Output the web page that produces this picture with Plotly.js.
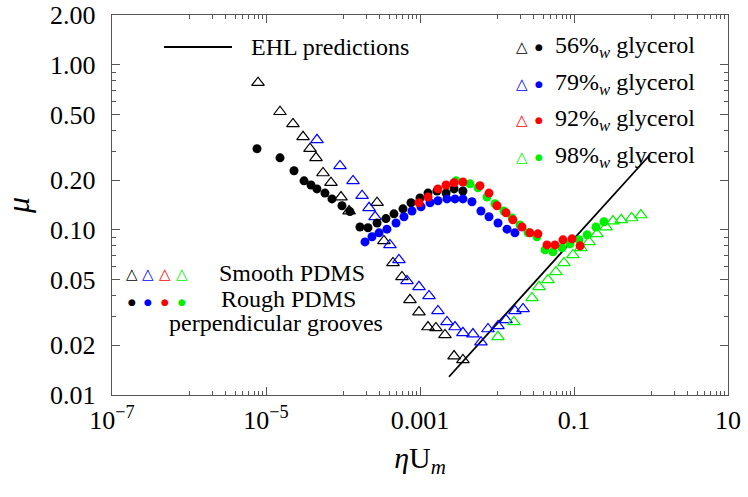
<!DOCTYPE html>
<html><head><meta charset="utf-8">
<script src="https://cdn.plot.ly/plotly-3.0.1.min.js"></script>
<style>body{margin:0;background:#fff;} #chart{width:748px;height:497px;}</style>
</head><body><div id="chart"></div>
<script>
// ---- data ----
const smooth56X = [7.87e-6,1.52e-5,2.24e-5,3.03e-5,3.73e-5,4.46e-5,5.50e-5,6.98e-5,9.42e-5,1.20e-4,2.77e-4,3.40e-4,4.46e-4,5.83e-4,7.41e-4,9.70e-4,1.27e-3,1.61e-3,2.11e-3,2.77e-3,3.61e-3];
const smooth56Y = [0.778,0.519,0.438,0.366,0.310,0.273,0.221,0.193,0.158,0.130,0.146,0.0857,0.0631,0.0519,0.0377,0.0318,0.0258,0.0255,0.0231,0.0172,0.0163];
const smooth79X = [4.59e-5,9.14e-5,1.35e-4,1.77e-4,2.18e-4,2.61e-4,4.07e-4,5.33e-4,6.78e-4,9.70e-4,1.31e-3,1.71e-3,2.24e-3,2.85e-3,3.61e-3,4.87e-3,6.19e-3,7.64e-3,1.03e-2,1.31e-2,1.71e-2,2.18e-2];
const smooth79Y = [0.351,0.244,0.198,0.161,0.136,0.120,0.0811,0.0658,0.0491,0.0452,0.0398,0.0323,0.0277,0.0258,0.0238,0.0234,0.0209,0.0251,0.0262,0.0285,0.0323,0.0332];
const smooth98X = [1.03e-2,1.66e-2,2.85e-2,3.51e-2,4.59e-2,5.83e-2,7.41e-2,9.70e-2,0.123,0.157,0.199,0.261,0.321,0.41,0.56,0.74];
const smooth98Y = [0.0225,0.0277,0.0387,0.0452,0.0498,0.0556,0.0631,0.0705,0.0778,0.0845,0.0946,0.104,0.113,0.115,0.118,0.123];
const rough56X = [7.64e-6,1.52e-5,2.31e-5,3.12e-5,3.84e-5,4.59e-5,5.83e-5,7.19e-5,9.70e-5,1.23e-4,1.66e-4,2.11e-4,2.77e-4,3.61e-4,4.59e-4,6.01e-4,7.64e-4,1.00e-3,1.27e-3,1.66e-3,2.18e-3,2.77e-3,3.61e-3];
const rough56Y = [0.310,0.273,0.228,0.198,0.187,0.177,0.167,0.154,0.140,0.129,0.104,0.103,0.110,0.117,0.125,0.134,0.146,0.156,0.167,0.172,0.167,0.177,0.172];
const rough79X = [1.93e-4,2.38e-4,2.94e-4,3.72e-4,4.88e-4,6.19e-4,7.87e-4,1.03e-3,1.35e-3,1.71e-3,2.24e-3,2.85e-3,3.61e-3,4.73e-3,6.19e-3,7.87e-3,1.03e-2,1.35e-2,1.71e-2];
const rough79Y = [0.0845,0.0908,0.0959,0.101,0.110,0.120,0.130,0.138,0.146,0.150,0.154,0.154,0.154,0.148,0.130,0.120,0.110,0.101,0.0959];
const rough92X = [9.70e-4,1.27e-3,1.71e-3,2.18e-3,2.77e-3,3.61e-3,6.01e-3,7.87e-3,1.00e-2,1.31e-2,1.61e-2,2.11e-2,2.68e-2,3.40e-2,4.46e-2,5.66e-2,7.19e-2,9.42e-2,0.120];
const rough92Y = [0.146,0.158,0.177,0.187,0.193,0.195,0.185,0.167,0.140,0.127,0.115,0.104,0.0959,0.0946,0.0811,0.0811,0.0870,0.0882,0.080];
const rough98X = [2.94e-3,4.46e-3,5.66e-3,7.41e-3,9.42e-3,1.23e-2,1.57e-2,1.99e-2,2.53e-2,3.30e-2,4.20e-2,5.33e-2,6.98e-2,8.87e-2,0.116,0.148,0.193,0.245];
const rough98Y = [0.198,0.190,0.180,0.158,0.144,0.130,0.118,0.107,0.0959,0.0908,0.0757,0.0736,0.0778,0.0822,0.0870,0.0933,0.104,0.112];
const ehlX = [2.38e-3, 0.97];
const ehlY = [0.0129, 0.285];

const yTickVals = [0.01,0.02,0.05,0.1,0.2,0.5,1,2];
const yTickText = ['0.01','0.02','0.05','0.10','0.20','0.50','1.00','2.00'];
const xTickVals = [1e-7,1e-5,1e-3,1e-1,10];
const xTickText = ['10<sup>\u22127</sup>','10<sup>\u22125</sup>','0.001','0.1','10'];
const xMinor = [1e-6,2e-6,3e-6,4e-6,5e-6,6e-6,7e-6,8e-6,9e-6,1e-4,2e-4,3e-4,4e-4,5e-4,6e-4,7e-4,8e-4,9e-4,1e-2,2e-2,3e-2,4e-2,5e-2,6e-2,7e-2,8e-2,9e-2,1,2,3,4,5,6,7,8,9];
const yMinor = [0.03,0.04,0.06,0.07,0.08,0.09,0.3,0.4,0.6,0.7,0.8,0.9];

const cBlack='#000000', cBlue='#0000ff', cRed='#ff0000', cGreen='#00f000';
const FONT = '"Liberation Serif", "Times New Roman", Times, serif';

function tri(x,y,c){return {x:x,y:y,type:'scatter',mode:'markers',marker:{symbol:'triangle-up-open',size:11,color:c,line:{color:c,width:1.2}},hoverinfo:'skip'};}
function dot(x,y,c){return {x:x,y:y,type:'scatter',mode:'markers',marker:{symbol:'circle',size:9,color:c,line:{width:0}},hoverinfo:'skip'};}

const traces = [
  {x:ehlX,y:ehlY,type:'scatter',mode:'lines',line:{color:'#000',width:1.8},hoverinfo:'skip'},
  tri(smooth56X,smooth56Y,cBlack),
  tri(smooth79X,smooth79Y,cBlue),
  tri(smooth98X,smooth98Y,cGreen),
  dot(rough56X,rough56Y,cBlack),
  dot(rough79X,rough79Y,cBlue),
  dot(rough98X,rough98Y,cGreen),
  dot(rough92X,rough92Y,cRed)
];

// plot area in pixels: x 112..728, y 15..395
const L=112,R=728,T=15,B=395;
function px(x){return (x-L)/(R-L);}
function py(y){return (B-y)/(B-T);}
const anns=[];
function txt(x,y,t,size,xa,col){anns.push({xref:'paper',yref:'paper',x:px(x),y:py(y),text:t,showarrow:false,xanchor:xa||'left',yanchor:'middle',font:{family:FONT,size:size,color:col||'#000'}});}
function sym(x,y,t,col,size,fam){anns.push({xref:'paper',yref:'paper',x:px(x),y:py(y),text:t,showarrow:false,xanchor:'center',yanchor:'middle',font:{family:fam||'DejaVu Sans',size:size,color:col}});}

// legend top-left
txt(249,47,'EHL predictions',24);
// legend right
const rowsY=[47,84,120,157];
const rowCols=[cBlack,cBlue,cRed,cGreen];
const rowTxt=['56%<sub><i>w</i></sub> glycerol','79%<sub><i>w</i></sub> glycerol','92%<sub><i>w</i></sub> glycerol','98%<sub><i>w</i></sub> glycerol'];
for(let i=0;i<4;i++){
  sym(522,rowsY[i],'\u25B3',rowCols[i],15);
  sym(539,rowsY[i],'\u25CF',rowCols[i],9);
  txt(553,rowsY[i],rowTxt[i],24);
}
// legend left
const lx=[132,148,165,182];
for(let i=0;i<4;i++){
  sym(lx[i],274,'\u25B3',rowCols[i],15);
  sym(lx[i],302,'\u25CF',rowCols[i],9);
}
txt(217,273,'Smooth PDMS',24);
txt(219,299,'Rough PDMS',24);
txt(167,323,'perpendicular grooves',24);

const layout = {
  width:748,height:497,
  margin:{l:L,r:748-R,t:T,b:497-B},
  paper_bgcolor:'#fff',plot_bgcolor:'#fff',
  showlegend:false,
  font:{family:FONT,color:'#000'},
  xaxis:{type:'log',range:[-7,1],tickmode:'array',tickvals:xTickVals,ticktext:xTickText,
    ticks:'inside',ticklen:8,tickwidth:1,tickcolor:'#555',showline:true,linecolor:'#555',linewidth:1.2,mirror:'allticks',
    showgrid:false,zeroline:false,tickfont:{family:FONT,size:26,color:'#000'},ticklabelstandoff:2,
    minor:{tickmode:'array',tickvals:xMinor,ticks:'inside',ticklen:4,tickcolor:'#555',showgrid:false},
    title:{text:'<i>\u03B7</i>U<sub><i>m</i></sub>',font:{family:FONT,size:30,color:'#000'},standoff:12}},
  yaxis:{type:'log',range:[-2,Math.log10(2)],tickmode:'array',tickvals:yTickVals,ticktext:yTickText,
    ticks:'inside',ticklen:8,tickwidth:1,tickcolor:'#555',showline:true,linecolor:'#555',linewidth:1.2,mirror:'allticks',
    showgrid:false,zeroline:false,tickfont:{family:FONT,size:26,color:'#000'},ticklabelstandoff:10,
    minor:{tickmode:'array',tickvals:yMinor,ticks:'inside',ticklen:4,tickcolor:'#555',showgrid:false},
    title:{text:'<i>\u03BC</i>',font:{family:FONT,size:32,color:'#000'},standoff:12}},
  shapes:[{type:'line',xref:'paper',yref:'paper',x0:px(164),x1:px(232),y0:py(47),y1:py(47),line:{color:'#000',width:1.8}}],
  annotations:anns
};
Plotly.newPlot('chart',traces,layout,{staticPlot:true,displayModeBar:false});
</script>
</body></html>
